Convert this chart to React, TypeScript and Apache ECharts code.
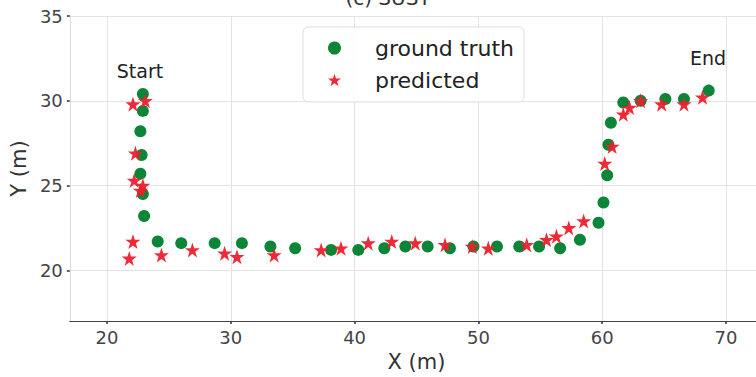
import React, { useEffect, useRef } from 'react';
import * as echarts from 'echarts';

const gtX = [22.9, 22.9, 22.7, 22.8, 22.7, 22.9, 23.0, 24.1, 26.0, 28.7, 30.9, 33.2, 35.2, 38.1, 40.3, 42.4, 44.1, 45.9, 47.7, 49.6, 51.5, 53.3, 54.9, 56.6, 58.2, 59.7, 60.1, 60.4, 60.5, 60.7, 61.7, 63.1, 65.1, 66.6, 68.6];
const gtY = [30.4, 29.4, 28.2, 26.8, 25.7, 24.5, 23.2, 21.7, 21.6, 21.6, 21.6, 21.4, 21.3, 21.2, 21.2, 21.3, 21.4, 21.4, 21.3, 21.4, 21.4, 21.4, 21.4, 21.3, 21.8, 22.8, 24.0, 25.6, 27.4, 28.7, 29.9, 30.0, 30.1, 30.1, 30.6];

const predX = [22.1, 23.1, 22.3, 22.2, 22.9, 22.7, 22.1, 21.8, 24.4, 26.9, 29.5, 30.5, 33.5, 37.3, 38.9, 41.1, 43.0, 44.9, 47.3, 49.5, 50.8, 53.9, 55.5, 56.3, 57.3, 58.5, 60.2, 60.8, 61.7, 62.2, 63.1, 64.8, 66.6, 68.1];
const predY = [29.8, 30.0, 26.9, 25.3, 25.0, 24.7, 21.7, 20.7, 20.9, 21.2, 21.0, 20.8, 20.9, 21.2, 21.3, 21.6, 21.7, 21.6, 21.5, 21.4, 21.3, 21.5, 21.8, 22.0, 22.5, 22.9, 26.3, 27.3, 29.2, 29.6, 30.0, 29.8, 29.8, 30.2];

const xTicks = [20, 30, 40, 50, 60, 70];
const yTicks = [20, 25, 30, 35];

const seriesNames = ['ground truth', 'predicted'];
const annotations = ['Start', 'End'];
const titleText = '(c) SUST';

const STAR = 'path://M50,0 L61.2,34.5 L97.6,34.5 L68.2,55.9 L79.4,90.5 L50,69.1 L20.6,90.5 L31.8,55.9 L2.4,34.5 L38.8,34.5 Z';
const FONT = 'DejaVu Sans';

export default function App() {
  const ref = useRef<HTMLDivElement>(null);
  useEffect(() => {
    if (!ref.current) return;
    const chart = echarts.init(ref.current, null, { renderer: 'svg' });
    const gt = gtX.map((x, i) => [x, gtY[i]]);
    const pr = predX.map((x, i) => [x, predY[i]]);
    chart.setOption({
      animation: false,
      textStyle: { fontFamily: FONT },
      grid: { left: 68.8, top: 16, width: 694.4, height: 307.2, containLabel: false },
      xAxis: {
        type: 'value',
        min: 17,
        max: 73,
        name: 'X (m)',
        nameLocation: 'middle',
        nameGap: 28,
        nameTextStyle: { fontSize: 21, color: '#333', fontFamily: FONT },
        axisLine: { show: true, lineStyle: { color: '#444', width: 1.2 } },
        axisTick: { show: true, length: 3, customValues: xTicks, lineStyle: { color: '#333', width: 1.5 } },
        axisLabel: { customValues: xTicks, fontSize: 18, color: '#444', margin: 7, fontFamily: FONT },
        splitLine: { show: true, lineStyle: { color: '#e3e3e3', width: 1 } },
      },
      yAxis: {
        type: 'value',
        min: 17,
        max: 35,
        name: 'Y (m)',
        nameLocation: 'middle',
        nameRotate: 90,
        nameGap: 33,
        nameTextStyle: { fontSize: 21, color: '#333', fontFamily: FONT },
        axisLine: { show: true, lineStyle: { color: '#dcdcdc', width: 1 } },
        axisTick: { show: true, length: 3, customValues: yTicks, lineStyle: { color: '#333', width: 1.5 } },
        axisLabel: { customValues: yTicks, fontSize: 18, color: '#444', margin: 7, fontFamily: FONT },
        splitLine: { show: true, lineStyle: { color: '#e3e3e3', width: 1 } },
      },
      legend: {
        orient: 'vertical',
        left: 303,
        top: 27,
        padding: [10, 10, 11, 25],
        itemWidth: 13,
        itemHeight: 13,
        itemGap: 10,
        backgroundColor: 'rgba(255,255,255,0.85)',
        borderColor: '#dddddd',
        borderWidth: 1,
        borderRadius: 5,
        textStyle: { fontSize: 22, color: '#222', fontFamily: FONT, padding: [0, 0, 0, 29], lineHeight: 22 },
        data: [
          { name: seriesNames[0], icon: 'circle' },
          { name: seriesNames[1], icon: STAR },
        ],
      },
      graphic: [
        { type: 'text', x: 140, y: 71, style: { text: annotations[0], fontSize: 19, fontFamily: FONT, fill: '#222', align: 'center', verticalAlign: 'middle' } },
        { type: 'text', x: 708, y: 58, style: { text: annotations[1], fontSize: 19, fontFamily: FONT, fill: '#222', align: 'center', verticalAlign: 'middle' } },
        { type: 'text', x: 388, y: -2, style: { text: titleText, fontSize: 20, fontFamily: FONT, fill: '#333', align: 'center', verticalAlign: 'middle' } },
      ],
      series: [
        {
          name: seriesNames[0],
          type: 'scatter',
          data: gt,
          symbol: 'circle',
          symbolSize: 12,
          itemStyle: { color: '#0b8537', opacity: 1 },
          z: 2,
        },
        {
          name: seriesNames[1],
          type: 'scatter',
          data: pr,
          symbol: STAR,
          symbolSize: 15,
          itemStyle: { color: '#ee1f2d', opacity: 0.95 },
          z: 3,
        },
      ],
    });
    return () => chart.dispose();
  }, []);
  return (
    <div style={{ position: 'absolute', left: 0, top: 0, width: 756, height: 377, overflow: 'hidden' }}>
      <div ref={ref} style={{ position: 'absolute', left: 0, top: 0, width: 780, height: 377 }} />
    </div>
  );
}
